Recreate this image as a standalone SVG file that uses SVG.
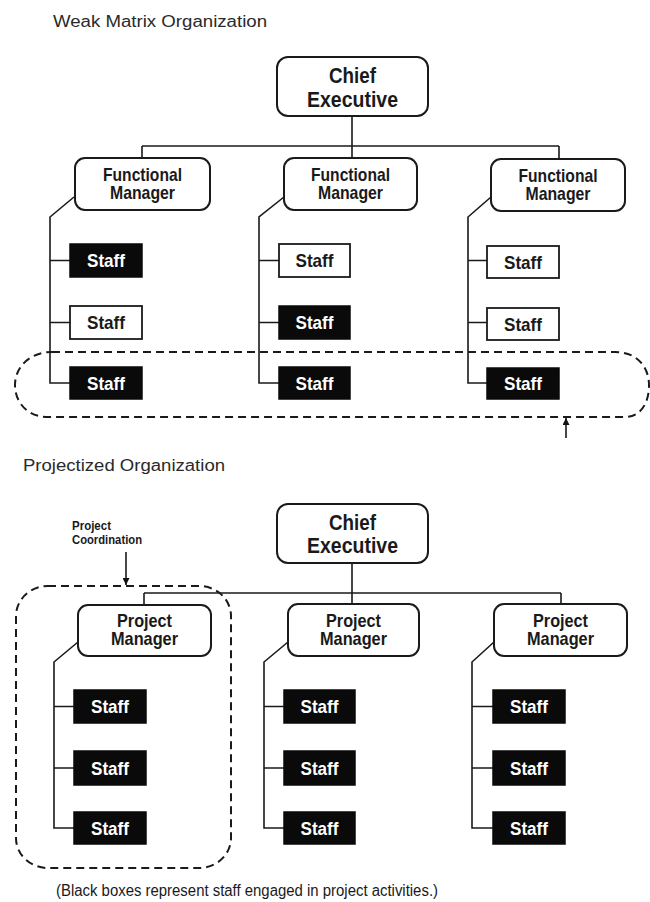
<svg xmlns="http://www.w3.org/2000/svg" width="650" height="902" viewBox="0 0 650 902">
  <defs>
    <marker id="arrowHead" viewBox="0 0 8 8" refX="8" refY="4" markerWidth="7" markerHeight="7" markerUnits="userSpaceOnUse" orient="auto">
      <path d="M0,0 L8,4 L0,8 z" fill="#111"/>
    </marker>
    <style>
      .bg { fill: #ffffff; }
      .title { font-family: "Liberation Sans", Arial, sans-serif; font-size: 16px; fill: #2a2a2a; }
      .boss { fill: #ffffff; stroke: #1a1a1a; stroke-width: 2; }
      .bossText { font-family: "Liberation Sans", Arial, sans-serif; font-weight: bold; font-size: 22px; fill: #1a1a1a; text-anchor: middle; }
      .mgrText { font-family: "Liberation Sans", Arial, sans-serif; font-weight: bold; font-size: 18.5px; fill: #1a1a1a; text-anchor: middle; }
      .staffOn { fill: #0a0a0a; stroke: #0a0a0a; stroke-width: 1.5; }
      .staffOff { fill: #ffffff; stroke: #1a1a1a; stroke-width: 1.8; }
      .staffText { font-family: "Liberation Sans", Arial, sans-serif; font-weight: bold; font-size: 19px; text-anchor: middle; }
      .onText { fill: #ffffff; }
      .offText { fill: #1a1a1a; }
      .link { fill: none; stroke: #1a1a1a; stroke-width: 1.6; }
      .dash { fill: none; stroke: #1a1a1a; stroke-width: 2; stroke-dasharray: 8 5; }
      .note { font-family: "Liberation Sans", Arial, sans-serif; font-weight: bold; font-size: 12.5px; fill: #1a1a1a; }
      .caption { font-family: "Liberation Sans", Arial, sans-serif; font-size: 16px; fill: #1a1a1a; }
    </style>
  </defs>

  <rect class="bg" x="0" y="0" width="650" height="902"/>

  <!-- ===== Weak matrix chart ===== -->
  <text class="title" x="53" y="27" textLength="214" lengthAdjust="spacingAndGlyphs">Weak Matrix Organization</text>

  <g id="wm-connectors">
    <path class="link" d="M352,116 V146 M142,146 H559 M142,146 V158 M352,146 V158 M559,146 V158"/>
    <!-- left column -->
    <path class="link" d="M74,197 L50,217 V383 H70 M50,260.5 H70 M50,322.5 H70"/>
    <!-- middle column -->
    <path class="link" d="M284,197 L259,217 V383 H279 M259,260.5 H279 M259,322.5 H279"/>
    <!-- right column -->
    <path class="link" d="M491,197 L468,217 V383 H487 M468,260.5 H487 M468,322.5 H487"/>
    <!-- project staff grouping -->
    <path class="dash" d="M52,352 H615 C638,352 649,368 649,385 C649,404 640,417 625,417 H48 C27,417 15,402 15,385 C15,367 30,352 52,352 Z"/>
    <line class="link" x1="566" y1="438" x2="566" y2="418" marker-end="url(#arrowHead)"/>
  </g>

  <g id="wm-chief">
    <rect class="boss" x="277" y="57" width="151" height="59" rx="11"/>
    <text class="bossText" x="352.5" y="83" textLength="47" lengthAdjust="spacingAndGlyphs">Chief</text>
    <text class="bossText" x="352.5" y="107" textLength="91" lengthAdjust="spacingAndGlyphs">Executive</text>
  </g>

  <g id="wm-fm1">
    <rect class="boss" x="75" y="158" width="135" height="52" rx="10"/>
    <text class="mgrText" x="142.5" y="181" textLength="79" lengthAdjust="spacingAndGlyphs">Functional</text>
    <text class="mgrText" x="142.5" y="198.5" textLength="65" lengthAdjust="spacingAndGlyphs">Manager</text>
  </g>
  <g id="wm-fm2">
    <rect class="boss" x="284" y="158" width="133" height="52" rx="10"/>
    <text class="mgrText" x="350.5" y="181" textLength="79" lengthAdjust="spacingAndGlyphs">Functional</text>
    <text class="mgrText" x="350.5" y="198.5" textLength="65" lengthAdjust="spacingAndGlyphs">Manager</text>
  </g>
  <g id="wm-fm3">
    <rect class="boss" x="491" y="159" width="134" height="52" rx="10"/>
    <text class="mgrText" x="558" y="182" textLength="79" lengthAdjust="spacingAndGlyphs">Functional</text>
    <text class="mgrText" x="558" y="199.5" textLength="65" lengthAdjust="spacingAndGlyphs">Manager</text>
  </g>

  <!-- staff, left column -->
  <g id="wm-s11"><rect class="staffOn" x="70" y="244" width="72" height="33"/><text class="staffText onText" x="106" y="267" textLength="38" lengthAdjust="spacingAndGlyphs">Staff</text></g>
  <g id="wm-s12"><rect class="staffOff" x="70" y="306" width="72" height="33"/><text class="staffText offText" x="106" y="329" textLength="38" lengthAdjust="spacingAndGlyphs">Staff</text></g>
  <g id="wm-s13"><rect class="staffOn" x="70" y="367" width="72" height="32"/><text class="staffText onText" x="106" y="389.5" textLength="38" lengthAdjust="spacingAndGlyphs">Staff</text></g>
  <!-- staff, middle column -->
  <g id="wm-s21"><rect class="staffOff" x="279" y="244" width="71" height="33"/><text class="staffText offText" x="314.5" y="267" textLength="38" lengthAdjust="spacingAndGlyphs">Staff</text></g>
  <g id="wm-s22"><rect class="staffOn" x="279" y="306" width="71" height="33"/><text class="staffText onText" x="314.5" y="329" textLength="38" lengthAdjust="spacingAndGlyphs">Staff</text></g>
  <g id="wm-s23"><rect class="staffOn" x="279" y="367" width="71" height="32"/><text class="staffText onText" x="314.5" y="389.5" textLength="38" lengthAdjust="spacingAndGlyphs">Staff</text></g>
  <!-- staff, right column -->
  <g id="wm-s31"><rect class="staffOff" x="487" y="246" width="72" height="32"/><text class="staffText offText" x="523" y="268.5" textLength="38" lengthAdjust="spacingAndGlyphs">Staff</text></g>
  <g id="wm-s32"><rect class="staffOff" x="487" y="308" width="72" height="32"/><text class="staffText offText" x="523" y="330.5" textLength="38" lengthAdjust="spacingAndGlyphs">Staff</text></g>
  <g id="wm-s33"><rect class="staffOn" x="487" y="368" width="72" height="31"/><text class="staffText onText" x="523" y="390" textLength="38" lengthAdjust="spacingAndGlyphs">Staff</text></g>

  <!-- ===== Projectized chart ===== -->
  <text class="title" x="23" y="471" font-size="17" textLength="202" lengthAdjust="spacingAndGlyphs">Projectized Organization</text>

  <g id="pj-coordination-label">
    <text class="note" x="72" y="530" textLength="39" lengthAdjust="spacingAndGlyphs">Project</text>
    <text class="note" x="72" y="543.5" textLength="70" lengthAdjust="spacingAndGlyphs">Coordination</text>
  </g>

  <g id="pj-connectors">
    <path class="link" d="M352,563 V593 M144,593 H561 M144,593 V604 M352,593 V604 M561,593 V604"/>
    <!-- left column -->
    <path class="link" d="M78,642 L54,662 V828 H74 M54,706.5 H74 M54,768 H74"/>
    <!-- middle column -->
    <path class="link" d="M288,642 L264,662 V828 H284 M264,706.5 H284 M264,768 H284"/>
    <!-- right column -->
    <path class="link" d="M494,642 L472,662 V828 H493 M472,706.5 H493 M472,768 H493"/>
    <!-- project team grouping -->
    <rect class="dash" x="16" y="586" width="215" height="282" rx="32" ry="30"/>
    <line class="link" x1="126" y1="552" x2="126" y2="585" marker-end="url(#arrowHead)"/>
  </g>

  <g id="pj-chief">
    <rect class="boss" x="277" y="504" width="151" height="59" rx="11"/>
    <text class="bossText" x="352.5" y="530" textLength="47" lengthAdjust="spacingAndGlyphs">Chief</text>
    <text class="bossText" x="352.5" y="553" textLength="91" lengthAdjust="spacingAndGlyphs">Executive</text>
  </g>

  <g id="pj-pm1">
    <rect class="boss" x="78" y="605" width="133" height="51" rx="10"/>
    <text class="mgrText" x="144.5" y="627" textLength="55" lengthAdjust="spacingAndGlyphs">Project</text>
    <text class="mgrText" x="144.5" y="644.5" textLength="67" lengthAdjust="spacingAndGlyphs">Manager</text>
  </g>
  <g id="pj-pm2">
    <rect class="boss" x="288" y="604" width="131" height="52" rx="10"/>
    <text class="mgrText" x="353.5" y="627" textLength="55" lengthAdjust="spacingAndGlyphs">Project</text>
    <text class="mgrText" x="353.5" y="644.5" textLength="67" lengthAdjust="spacingAndGlyphs">Manager</text>
  </g>
  <g id="pj-pm3">
    <rect class="boss" x="494" y="604" width="133" height="52" rx="10"/>
    <text class="mgrText" x="560.5" y="627" textLength="55" lengthAdjust="spacingAndGlyphs">Project</text>
    <text class="mgrText" x="560.5" y="644.5" textLength="67" lengthAdjust="spacingAndGlyphs">Manager</text>
  </g>

  <!-- staff, left column -->
  <g id="pj-s11"><rect class="staffOn" x="74" y="690" width="72" height="33"/><text class="staffText onText" x="110" y="713" textLength="38" lengthAdjust="spacingAndGlyphs">Staff</text></g>
  <g id="pj-s12"><rect class="staffOn" x="74" y="751" width="72" height="34"/><text class="staffText onText" x="110" y="774.5" textLength="38" lengthAdjust="spacingAndGlyphs">Staff</text></g>
  <g id="pj-s13"><rect class="staffOn" x="74" y="812" width="72" height="32"/><text class="staffText onText" x="110" y="834.5" textLength="38" lengthAdjust="spacingAndGlyphs">Staff</text></g>
  <!-- staff, middle column -->
  <g id="pj-s21"><rect class="staffOn" x="284" y="690" width="71" height="33"/><text class="staffText onText" x="319.5" y="713" textLength="38" lengthAdjust="spacingAndGlyphs">Staff</text></g>
  <g id="pj-s22"><rect class="staffOn" x="284" y="751" width="71" height="34"/><text class="staffText onText" x="319.5" y="774.5" textLength="38" lengthAdjust="spacingAndGlyphs">Staff</text></g>
  <g id="pj-s23"><rect class="staffOn" x="284" y="812" width="71" height="32"/><text class="staffText onText" x="319.5" y="834.5" textLength="38" lengthAdjust="spacingAndGlyphs">Staff</text></g>
  <!-- staff, right column -->
  <g id="pj-s31"><rect class="staffOn" x="493" y="690" width="72" height="33"/><text class="staffText onText" x="529" y="713" textLength="38" lengthAdjust="spacingAndGlyphs">Staff</text></g>
  <g id="pj-s32"><rect class="staffOn" x="493" y="751" width="72" height="34"/><text class="staffText onText" x="529" y="774.5" textLength="38" lengthAdjust="spacingAndGlyphs">Staff</text></g>
  <g id="pj-s33"><rect class="staffOn" x="493" y="812" width="72" height="32"/><text class="staffText onText" x="529" y="834.5" textLength="38" lengthAdjust="spacingAndGlyphs">Staff</text></g>

  <text class="caption" x="56" y="896" textLength="382" lengthAdjust="spacingAndGlyphs">(Black boxes represent staff engaged in project activities.)</text>
</svg>
